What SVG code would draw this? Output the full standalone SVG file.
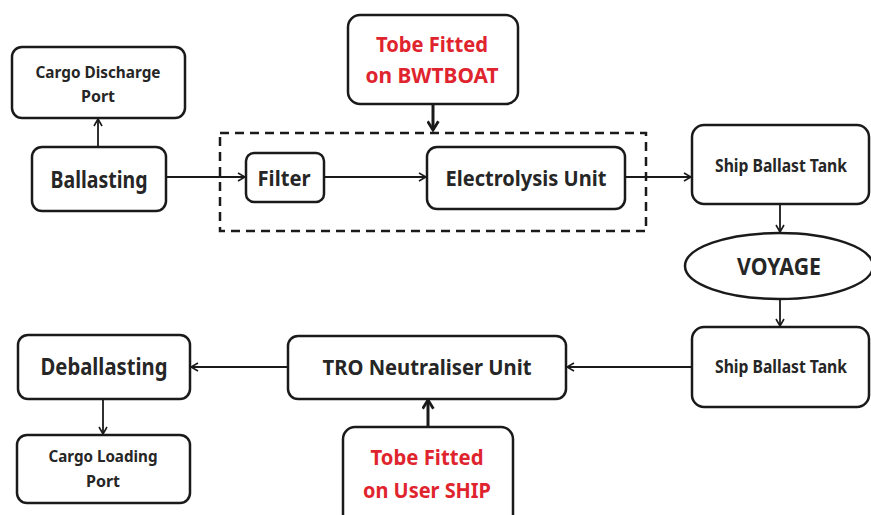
<svg xmlns="http://www.w3.org/2000/svg" width="871" height="515" viewBox="0 0 871 515">
<style>
.box{fill:#fff;stroke:#1a1a1a;stroke-width:2.5}
.t{font-family:"Noto Sans","Open Sans",sans-serif;font-weight:bold;fill:#262626;text-anchor:middle}
.r{fill:#e0242e}
.c{fill:none;stroke:#1a1a1a;stroke-width:1.8}
.ck{fill:none;stroke:#1a1a1a;stroke-width:3}
</style>
<defs>
<marker id="a" viewBox="0 0 10 10" refX="9" refY="5" markerWidth="10" markerHeight="10" markerUnits="userSpaceOnUse" orient="auto">
<path d="M2,1 L9,5 L2,9" fill="none" stroke="#1a1a1a" stroke-width="1.6"/>
</marker>
<marker id="b" viewBox="0 0 12 12" refX="10" refY="6" markerWidth="13" markerHeight="13" markerUnits="userSpaceOnUse" orient="auto">
<path d="M2,1 L10,6 L2,11" fill="none" stroke="#1a1a1a" stroke-width="2.6"/>
</marker>
</defs>
<rect width="871" height="515" fill="#fff"/>
<g id="connectors">
<line class="c" x1="98" y1="147" x2="98" y2="119" marker-end="url(#a)"/>
<line class="c" x1="166" y1="177" x2="245" y2="177" marker-end="url(#a)"/>
<line class="c" x1="324" y1="177" x2="426" y2="177" marker-end="url(#a)"/>
<line class="ck" x1="433" y1="104" x2="433" y2="130" marker-end="url(#b)"/>
<line class="c" x1="625" y1="177" x2="691" y2="177" marker-end="url(#a)"/>
<line class="c" x1="780" y1="204" x2="780" y2="232" marker-end="url(#a)"/>
<line class="c" x1="780" y1="300" x2="780" y2="326" marker-end="url(#a)"/>
<line class="c" x1="692" y1="367" x2="567" y2="367" marker-end="url(#a)"/>
<line class="ck" x1="428" y1="427" x2="428" y2="400" marker-end="url(#b)"/>
<line class="c" x1="288" y1="367" x2="191" y2="367" marker-end="url(#a)"/>
<line class="c" x1="103" y1="399" x2="103" y2="434" marker-end="url(#a)"/>
</g>
<g id="bwt-group">
<rect x="220" y="133" width="426" height="98" fill="none" stroke="#1a1a1a" stroke-width="2.5" stroke-dasharray="9,6"/>
</g>
<g id="cargo-discharge">
<rect class="box" x="12" y="47" width="173" height="71" rx="10"/>
<text class="t" x="98" y="78" font-size="16" textLength="125" lengthAdjust="spacingAndGlyphs">Cargo Discharge</text>
<text class="t" x="98" y="102" font-size="16">Port</text>
</g>
<g id="ballasting">
<rect class="box" x="32" y="147" width="134" height="64" rx="10"/>
<text class="t" x="99" y="188" font-size="23" textLength="97" lengthAdjust="spacingAndGlyphs">Ballasting</text>
</g>
<g id="filter">
<rect class="box" x="246" y="153" width="78" height="49" rx="8"/>
<text class="t" x="284" y="186" font-size="22" textLength="53" lengthAdjust="spacingAndGlyphs">Filter</text>
</g>
<g id="electrolysis">
<rect class="box" x="427" y="147" width="198" height="62" rx="10"/>
<text class="t" x="526" y="186" font-size="22" textLength="161" lengthAdjust="spacingAndGlyphs">Electrolysis Unit</text>
</g>
<g id="tobe-bwtboat">
<rect class="box" x="348" y="15" width="170" height="89" rx="12"/>
<text class="t r" x="432" y="52" font-size="22" textLength="112" lengthAdjust="spacingAndGlyphs">Tobe Fitted</text>
<text class="t r" x="432" y="83" font-size="22" textLength="133" lengthAdjust="spacingAndGlyphs">on BWTBOAT</text>
</g>
<g id="ship-ballast-tank-1">
<rect class="box" x="692" y="125" width="177" height="79" rx="12"/>
<text class="t" x="781" y="172" font-size="17" textLength="132" lengthAdjust="spacingAndGlyphs">Ship Ballast Tank</text>
</g>
<g id="voyage">
<ellipse cx="779" cy="266" rx="94" ry="33" fill="#fff" stroke="#1a1a1a" stroke-width="2.5"/>
<text class="t" x="779" y="275" font-size="23" textLength="84" lengthAdjust="spacingAndGlyphs">VOYAGE</text>
</g>
<g id="ship-ballast-tank-2">
<rect class="box" x="692" y="327" width="177" height="80" rx="12"/>
<text class="t" x="781" y="373" font-size="17" textLength="132" lengthAdjust="spacingAndGlyphs">Ship Ballast Tank</text>
</g>
<g id="tro">
<rect class="box" x="288" y="336" width="278" height="63" rx="10"/>
<text class="t" x="427" y="375" font-size="21" textLength="209" lengthAdjust="spacingAndGlyphs">TRO Neutraliser Unit</text>
</g>
<g id="tobe-user-ship">
<rect class="box" x="343" y="427" width="170" height="100" rx="12"/>
<text class="t r" x="427" y="465" font-size="21" textLength="113" lengthAdjust="spacingAndGlyphs">Tobe Fitted</text>
<text class="t r" x="427" y="498" font-size="21" textLength="128" lengthAdjust="spacingAndGlyphs">on User SHIP</text>
</g>
<g id="deballasting">
<rect class="box" x="18" y="335" width="172" height="64" rx="10"/>
<text class="t" x="104" y="375" font-size="23" textLength="127" lengthAdjust="spacingAndGlyphs">Deballasting</text>
</g>
<g id="cargo-loading">
<rect class="box" x="17" y="435" width="173" height="68" rx="10"/>
<text class="t" x="103" y="462" font-size="16" textLength="109" lengthAdjust="spacingAndGlyphs">Cargo Loading</text>
<text class="t" x="103" y="487" font-size="16">Port</text>
</g>
</svg>
